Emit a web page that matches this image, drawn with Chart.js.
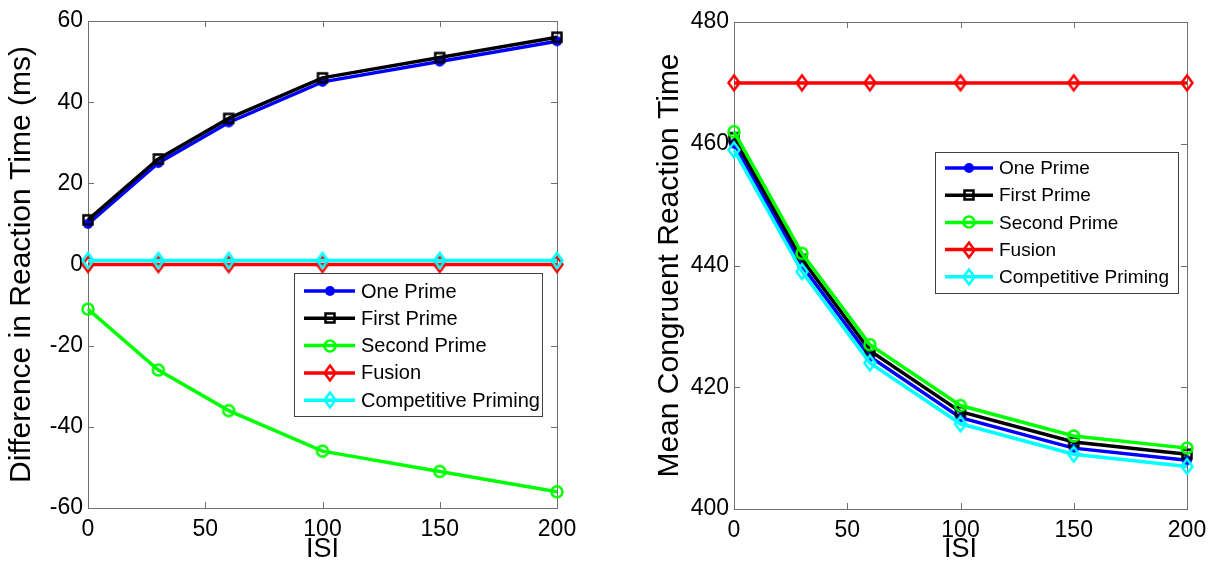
<!DOCTYPE html>
<html>
<head>
<meta charset="utf-8">
<script src="https://cdn.jsdelivr.net/npm/chart.js@4.4.1/dist/chart.umd.min.js"></script>
<style>
  body { margin: 0; background: #fff; width: 1215px; height: 569px; overflow: hidden; position: relative; }
  canvas { position: absolute; top: 0; }
  #diff { left: 0; }
  #congruent { left: 610px; }
</style>
</head>
<body>
<canvas id="diff" width="600" height="569"></canvas>
<canvas id="congruent" width="605" height="569"></canvas>
<script>
// ISI values on the x axis (shared by both panels)
const isi = [0, 30, 60, 100, 150, 200];
const series_names = ['One Prime', 'First Prime', 'Second Prime', 'Fusion', 'Competitive Priming'];

// left panel: difference in reaction time (ms)
const diff_one = [10, 25, 35, 45, 50, 55];
const diff_first = [11, 26, 36, 46, 51, 56];
const diff_second = [-11, -26, -36, -46, -51, -56];
const diff_fusion = [0, 0, 0, 0, 0, 0];
const diff_comp = [1, 1, 1, 1, 1, 1];

// right panel: mean congruent reaction time
const rt_one = [460, 440, 425, 415, 410, 408];
const rt_first = [461, 441, 426, 416, 411, 409];
const rt_second = [462, 442, 427, 417, 412, 410];
const rt_fusion = [470, 470, 470, 470, 470, 470];
const rt_comp = [459, 439, 424, 414, 409, 407];

const x_ticks = [0, 50, 100, 150, 200];
const diff_ticks = [-60, -40, -20, 0, 20, 40, 60];
const rt_ticks = [400, 420, 440, 460, 480];

const FONT = "'Liberation Sans', Arial, Helvetica, sans-serif";
const colors = ['#0000ff', '#000000', '#00ff00', '#ff0000', '#00ffff'];
const shapes = ['dot', 'square', 'circle', 'diamond', 'diamond'];

// matlab-like markers drawn onto small canvases
function marker(shape, color) {
  let c = document.createElement('canvas');
  c.width = 18; c.height = 20;
  let g = c.getContext('2d');
  g.strokeStyle = color; g.fillStyle = color; g.lineWidth = 2.5;
  let cx = 9, cy = 10;
  g.beginPath();
  if (shape === 'dot') { g.arc(cx, cy, 5, 0, Math.PI * 2); g.fill(); }
  else if (shape === 'circle') { g.arc(cx, cy, 5.5, 0, Math.PI * 2); g.stroke(); }
  else if (shape === 'square') { g.rect(cx - 4.5, cy - 4.5, 9, 9); g.stroke(); }
  else {
    g.moveTo(cx, cy - 7.5); g.lineTo(cx + 5.5, cy); g.lineTo(cx, cy + 7.5); g.lineTo(cx - 5.5, cy);
    g.closePath(); g.stroke();
  }
  return c;
}

// axes box with inward ticks on all four sides
const matlabBox = {
  id: 'matlabBox',
  beforeDatasetsDraw(chart) {
    const {ctx, chartArea: a, scales: {x, y}} = chart;
    const len = 6;
    ctx.save();
    ctx.strokeStyle = '#707070';
    ctx.lineWidth = 1;
    ctx.strokeRect(a.left + 0.5, a.top + 0.5, a.right - a.left, a.bottom - a.top);
    ctx.beginPath();
    x.ticks.forEach(t => {
      let px = Math.round(x.getPixelForValue(t.value)) + 0.5;
      ctx.moveTo(px, a.bottom); ctx.lineTo(px, a.bottom - len);
      ctx.moveTo(px, a.top); ctx.lineTo(px, a.top + len);
    });
    y.ticks.forEach(t => {
      let py = Math.round(y.getPixelForValue(t.value)) + 0.5;
      ctx.moveTo(a.left, py); ctx.lineTo(a.left + len, py);
      ctx.moveTo(a.right, py); ctx.lineTo(a.right - len, py);
    });
    ctx.stroke();
    ctx.restore();
  }
};

// legend box inside the plot
const insideLegend = {
  id: 'insideLegend',
  afterDraw(chart, args, o) {
    const ctx = chart.ctx;
    ctx.save();
    ctx.fillStyle = '#fff';
    ctx.fillRect(o.left, o.top, o.width, o.height);
    ctx.strokeStyle = '#404040';
    ctx.lineWidth = 1;
    ctx.strokeRect(o.left + 0.5, o.top + 0.5, o.width, o.height);
    chart.data.datasets.forEach((ds, i) => {
      let cy = o.top + o.firstRow + i * o.rowHeight;
      let x0 = o.left + o.pad;
      ctx.strokeStyle = ds.borderColor;
      ctx.lineWidth = ds.borderWidth;
      ctx.beginPath(); ctx.moveTo(x0, cy); ctx.lineTo(x0 + o.lineLen, cy); ctx.stroke();
      let m = ds.pointStyle;
      ctx.drawImage(m, Math.round(x0 + o.lineLen / 2 - m.width / 2), Math.round(cy - m.height / 2));
      ctx.fillStyle = '#000';
      ctx.font = o.fontSize + 'px ' + FONT;
      ctx.textBaseline = 'middle';
      ctx.fillText(ds.label, x0 + o.lineLen + o.gap, cy + 1);
    });
    ctx.restore();
  }
};

function makeChart(el, series, yTicks, yTitle, fit, legendOpts) {
  let datasets = series.map((vals, i) => ({
    label: series_names[i],
    data: vals.map((v, j) => ({x: isi[j], y: v})),
    borderColor: colors[i],
    backgroundColor: colors[i],
    borderWidth: 3.5,
    pointStyle: marker(shapes[i], colors[i]),
    pointRadius: 6,
    pointHoverRadius: 6,
    tension: 0,
    clip: false,
    order: series.length - i
  }));

  return new Chart(document.getElementById(el), {
    type: 'line',
    data: {datasets: datasets},
    options: {
      responsive: false,
      animation: false,
      events: [],
      layout: {padding: fit.padding},
      plugins: {
        legend: {display: false},
        tooltip: {enabled: false},
        insideLegend: legendOpts
      },
      scales: {
        x: {
          type: 'linear',
          min: x_ticks[0],
          max: x_ticks[x_ticks.length - 1],
          ticks: {stepSize: x_ticks[1] - x_ticks[0], color: '#000', padding: 8, maxRotation: 0,
                  font: {family: FONT, size: 23}},
          grid: {display: false, drawTicks: false},
          border: {display: false},
          title: {display: true, text: 'ISI', color: '#000', padding: {top: 0, bottom: 3},
                  font: {family: FONT, size: 27}},
          afterFit: s => { s.height = fit.xHeight; }
        },
        y: {
          type: 'linear',
          min: yTicks[0],
          max: yTicks[yTicks.length - 1],
          ticks: {stepSize: yTicks[1] - yTicks[0], color: '#000', padding: 5,
                  font: {family: FONT, size: 23}},
          grid: {display: false, drawTicks: false},
          border: {display: false},
          title: {display: true, text: yTitle, color: '#000', padding: {top: fit.titlePad, bottom: 0},
                  font: {family: FONT, size: 30}},
          afterFit: s => { s.width = fit.yWidth; }
        }
      }
    },
    plugins: [matlabBox, insideLegend]
  });
}

makeChart('diff',
  [diff_one, diff_first, diff_second, diff_fusion, diff_comp],
  diff_ticks, 'Difference in Reaction Time (ms)',
  {padding: {top: 21, right: 43, left: 0, bottom: 0}, xHeight: 61, yWidth: 88, titlePad: 4},
  {left: 294, top: 273, width: 248, height: 143, firstRow: 18, rowHeight: 27.3,
   pad: 10, lineLen: 51, gap: 6, fontSize: 20});

makeChart('congruent',
  [rt_one, rt_first, rt_second, rt_fusion, rt_comp],
  rt_ticks, 'Mean Congruent Reaction Time',
  {padding: {top: 22, right: 28, left: 40, bottom: 0}, xHeight: 60, yWidth: 84, titlePad: 2},
  {left: 325, top: 152, width: 243, height: 141, firstRow: 16, rowHeight: 27.2,
   pad: 10, lineLen: 48, gap: 6, fontSize: 19});
</script>
</body>
</html>
